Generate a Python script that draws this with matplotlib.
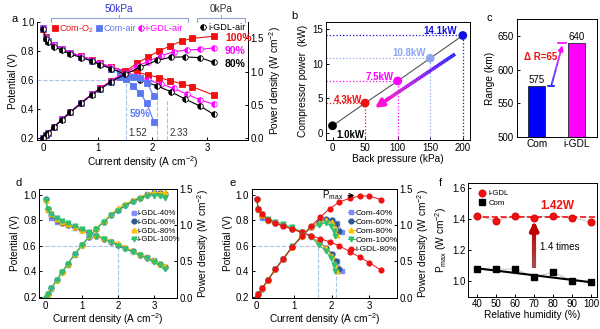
import numpy as np
import matplotlib
matplotlib.use('Agg')
import matplotlib.pyplot as plt
from matplotlib.collections import LineCollection
from matplotlib.colors import to_rgb
from matplotlib.transforms import blended_transform_factory

plt.rcParams['font.family'] = ['Liberation Sans', 'DejaVu Sans']
plt.rcParams['mathtext.fontset'] = 'custom'
plt.rcParams['mathtext.rm'] = 'Liberation Sans'
plt.rcParams['mathtext.it'] = 'Liberation Sans:italic'
plt.rcParams['font.size'] = 7
plt.rcParams['xtick.labelsize'] = 7
plt.rcParams['ytick.labelsize'] = 7
plt.rcParams['axes.linewidth'] = 0.7
plt.rcParams['xtick.direction'] = 'in'
plt.rcParams['ytick.direction'] = 'in'
plt.rcParams['xtick.major.size'] = 2.5
plt.rcParams['ytick.major.size'] = 2.5
plt.rcParams['xtick.major.width'] = 0.7
plt.rcParams['ytick.major.width'] = 0.7
plt.rcParams['xtick.major.pad'] = 2
plt.rcParams['ytick.major.pad'] = 2

# ---------------- data ----------------
# panel a : polarisation (V) and power (W cm-2) vs current (A cm-2)
a_i_o2 = [0, 0.05, 0.1, 0.2, 0.35, 0.5, 0.7, 0.9, 1.05, 1.25, 1.5, 1.72, 1.92, 2.13, 2.33, 2.54, 2.73, 3.12]
a_v_o2 = [0.955, 0.895, 0.87, 0.845, 0.815, 0.79, 0.765, 0.74, 0.715, 0.69, 0.665, 0.655, 0.635, 0.618, 0.595, 0.575, 0.555, 0.497]
a_p_o2 = [0, 0.045, 0.087, 0.169, 0.285, 0.395, 0.536, 0.666, 0.751, 0.863, 0.998, 1.127, 1.219, 1.316, 1.386, 1.461, 1.5, 1.53]

a_i_air = [0, 0.05, 0.1, 0.2, 0.35, 0.5, 0.7, 0.9, 1.05, 1.25, 1.4, 1.52, 1.65, 1.78, 1.9, 2.03]
a_v_air = [0.96, 0.89, 0.87, 0.845, 0.815, 0.79, 0.76, 0.735, 0.71, 0.68, 0.655, 0.605, 0.56, 0.51, 0.44, 0.31]
a_p_air = [0, 0.045, 0.087, 0.169, 0.285, 0.395, 0.532, 0.662, 0.746, 0.85, 0.917, 0.92, 0.924, 0.908, 0.836, 0.63]

a_i_gdl = [0, 0.05, 0.1, 0.2, 0.35, 0.5, 0.7, 0.9, 1.05, 1.25, 1.5, 1.72, 1.92, 2.15, 2.39, 2.63, 2.88, 3.12]
a_v_gdl = [0.96, 0.89, 0.865, 0.84, 0.815, 0.79, 0.765, 0.74, 0.715, 0.69, 0.655, 0.63, 0.6, 0.575, 0.543, 0.504, 0.463, 0.435]
a_p_gdl = [0, 0.045, 0.087, 0.168, 0.285, 0.395, 0.536, 0.666, 0.751, 0.863, 0.983, 1.084, 1.152, 1.236, 1.298, 1.326, 1.333, 1.357]

a_i_gdl0 = [0, 0.05, 0.1, 0.2, 0.35, 0.5, 0.7, 0.9, 1.05, 1.25, 1.5, 1.78, 2.09, 2.34, 2.6, 2.88, 3.12]
a_v_gdl0 = [0.955, 0.885, 0.86, 0.83, 0.805, 0.78, 0.755, 0.73, 0.705, 0.68, 0.64, 0.6, 0.56, 0.52, 0.47, 0.42, 0.365]
a_p_gdl0 = [0, 0.044, 0.086, 0.166, 0.282, 0.39, 0.529, 0.657, 0.74, 0.85, 0.96, 1.068, 1.17, 1.217, 1.222, 1.21, 1.139]

# panel b : compressor power vs back pressure
b_pressure = [0, 50, 100, 150, 200]
b_power = [1.0, 4.3, 7.5, 10.8, 14.1]
b_labels = ['1.0kW', '4.3kW', '7.5kW', '10.8kW', '14.1kW']

# panel c : driving range
c_names = ['Com', 'i-GDL']
c_range = [575, 640]

# panel d : i-GDL at different RH
d_i = [0, 0.05, 0.15, 0.3, 0.45, 0.6, 0.8, 1.0, 1.2, 1.4, 1.6, 1.8, 2.0, 2.2, 2.4, 2.6, 2.8, 3.0, 3.15, 3.3]
d_v40 = [0.96, 0.88, 0.82, 0.79, 0.775, 0.76, 0.74, 0.72, 0.70, 0.68, 0.655, 0.63, 0.605, 0.58, 0.555, 0.53, 0.51, 0.485, 0.46, 0.435]
d_p40 = [0, 0.044, 0.123, 0.237, 0.349, 0.456, 0.592, 0.72, 0.84, 0.952, 1.048, 1.134, 1.21, 1.276, 1.332, 1.378, 1.428, 1.455, 1.449, 1.436]
d_v60 = [0.965, 0.89, 0.84, 0.80, 0.78, 0.765, 0.745, 0.72, 0.70, 0.68, 0.655, 0.63, 0.605, 0.58, 0.555, 0.53, 0.505, 0.48, 0.46, 0.435]
d_p60 = [0, 0.045, 0.126, 0.24, 0.351, 0.459, 0.596, 0.72, 0.84, 0.952, 1.048, 1.134, 1.21, 1.276, 1.332, 1.378, 1.414, 1.44, 1.449, 1.436]
d_v80 = [0.96, 0.885, 0.845, 0.81, 0.79, 0.77, 0.75, 0.725, 0.705, 0.685, 0.66, 0.64, 0.62, 0.59, 0.56, 0.535, 0.51, 0.485, 0.46, 0.44]
d_p80 = [0, 0.044, 0.127, 0.243, 0.356, 0.462, 0.6, 0.725, 0.846, 0.959, 1.056, 1.152, 1.24, 1.298, 1.344, 1.391, 1.428, 1.455, 1.449, 1.452]
d_v100 = [0.955, 0.885, 0.85, 0.815, 0.795, 0.775, 0.755, 0.73, 0.705, 0.68, 0.655, 0.63, 0.60, 0.575, 0.55, 0.525, 0.5, 0.47, 0.445, 0.415]
d_p100 = [0, 0.044, 0.128, 0.245, 0.358, 0.465, 0.604, 0.73, 0.846, 0.952, 1.048, 1.134, 1.2, 1.265, 1.32, 1.365, 1.4, 1.41, 1.402, 1.37]

# panel e : Com at different RH vs i-GDL-80%
e_i40 = [0, 0.05, 0.15, 0.3, 0.5, 0.7, 0.95, 1.2, 1.45, 1.65, 1.85, 2.0, 2.15, 2.28]
e_v40 = [0.97, 0.88, 0.82, 0.795, 0.775, 0.755, 0.73, 0.705, 0.67, 0.625, 0.58, 0.535, 0.48, 0.40]
e_p40 = [0, 0.044, 0.123, 0.239, 0.388, 0.529, 0.694, 0.846, 0.972, 1.031, 1.073, 1.07, 1.032, 0.912]
e_i60 = [0, 0.05, 0.15, 0.3, 0.5, 0.7, 0.95, 1.2, 1.45, 1.65, 1.85, 2.0, 2.12, 2.2]
e_v60 = [0.97, 0.885, 0.835, 0.80, 0.78, 0.76, 0.735, 0.705, 0.675, 0.63, 0.585, 0.535, 0.48, 0.42]
e_p60 = [0, 0.044, 0.125, 0.24, 0.39, 0.532, 0.698, 0.846, 0.979, 1.04, 1.082, 1.07, 1.018, 0.924]
e_i80 = [0, 0.05, 0.15, 0.3, 0.5, 0.7, 0.95, 1.2, 1.45, 1.65, 1.85, 2.0, 2.08, 2.15]
e_v80 = [0.965, 0.89, 0.84, 0.805, 0.785, 0.765, 0.74, 0.71, 0.675, 0.625, 0.58, 0.52, 0.46, 0.40]
e_p80 = [0, 0.045, 0.126, 0.242, 0.393, 0.536, 0.703, 0.852, 0.979, 1.031, 1.073, 1.04, 0.957, 0.86]
e_i100 = [0, 0.05, 0.15, 0.3, 0.5, 0.7, 0.95, 1.2, 1.45, 1.65, 1.85, 1.97, 2.05, 2.1]
e_v100 = [0.96, 0.885, 0.845, 0.81, 0.79, 0.77, 0.745, 0.71, 0.67, 0.605, 0.56, 0.5, 0.45, 0.405]
e_p100 = [0, 0.044, 0.127, 0.243, 0.395, 0.539, 0.708, 0.852, 0.972, 0.998, 1.036, 0.985, 0.923, 0.851]
e_ig = [0, 0.05, 0.15, 0.3, 0.5, 0.7, 0.95, 1.2, 1.45, 1.7, 1.95, 2.2, 2.5, 2.75, 3.0, 3.3]
e_vg = [0.965, 0.89, 0.845, 0.805, 0.775, 0.755, 0.73, 0.705, 0.68, 0.655, 0.63, 0.6, 0.55, 0.51, 0.468, 0.41]
e_pg = [0, 0.045, 0.127, 0.242, 0.388, 0.529, 0.694, 0.846, 0.986, 1.114, 1.229, 1.32, 1.375, 1.403, 1.404, 1.353]

# panel f : Pmax vs relative humidity
f_rh = [40, 50, 60, 70, 80, 90, 100]
f_igdl = [1.42, 1.39, 1.42, 1.41, 1.42, 1.41, 1.38]
f_com = [1.075, 1.075, 1.075, 1.025, 1.055, 1.0, 0.99]
f_com_fit = [1.08, 0.99]
f_igdl_mean = 1.415

RED = '#f01010'
BLUE = '#5a78f0'
MAG = '#ff00ff'
DASH = '#a9c2e6'
C40, C60, C80, C100 = '#7d8ef5', '#2e5a96', '#ffc000', '#2fc070'
LFS = 7.3   # axis label size

fig = plt.figure(figsize=(6, 3.29), dpi=100)
W, H = 600, 329


def box(l, t, r, b):
    return [l / W, 1 - b / H, (r - l) / W, (b - t) / H]


def grad_arrow(ax, p0, p1, c0, c1, lw, head):
    t = np.linspace(0, 0.86, 40)
    xs = p0[0] + (p1[0] - p0[0]) * t
    ys = p0[1] + (p1[1] - p0[1]) * t
    pts = np.column_stack([xs, ys]).reshape(-1, 1, 2)
    segs = np.concatenate([pts[:-1], pts[1:]], axis=1)
    a0, a1 = np.array(to_rgb(c0)), np.array(to_rgb(c1))
    cols = [(1 - s / 0.86) * a0 + (s / 0.86) * a1 for s in t[:-1]]
    ax.add_collection(LineCollection(segs, colors=cols, linewidths=lw, capstyle='butt', zorder=5))
    ax.annotate('', xy=p1, xytext=(xs[-3], ys[-3]),
                arrowprops=dict(arrowstyle='-|>', color=c1, lw=lw, mutation_scale=head,
                                shrinkA=0, shrinkB=0), zorder=6)


cur_label = 'Current density (A cm$^{-2}$)'
pow_label = 'Power density (W cm$^{-2}$)'

# ---------------- a ----------------
ax = fig.add_axes(box(37, 22, 248, 140))
ax2 = ax.twinx()
ax.spines['top'].set_visible(False)
ax2.spines['top'].set_visible(False)
ax.set_xlim(-0.11, 3.75)
ax.set_ylim(0.188, 1.0)
ax2.set_ylim(-0.025, 1.745)
ax.plot([-0.11, 2.08], [0.6, 0.6], ls='--', color=DASH, lw=0.8)
for xv, top in [(1.52, 0.6), (2.08, 0.6), (2.27, 0.46)]:
    ax.plot([xv, xv], [0.188, top], ls='--', color=DASH, lw=0.8)
series_a = [
    (a_i_o2, a_v_o2, a_p_o2, RED, 's', 'full', 'Com-O$_2$'),
    (a_i_air, a_v_air, a_p_air, BLUE, 's', 'full', 'Com-air'),
    (a_i_gdl, a_v_gdl, a_p_gdl, MAG, 'o', 'left', 'i-GDL-air'),
    (a_i_gdl0, a_v_gdl0, a_p_gdl0, 'black', 'o', 'left', 'i-GDL-air'),
]
hs = []
for i, v, p, c, m, fs, lab in series_a:
    h, = ax.plot(i, v, color=c, marker=m, ms=4.0, lw=0.8, fillstyle=fs,
                 markerfacecoloralt='white', mec=c, mew=0.6, label=lab)
    ax2.plot(i, p, color=c, marker=m, ms=4.0, lw=0.8, fillstyle=fs,
             markerfacecoloralt='white', mec=c, mew=0.6)
    hs.append(h)
leg = ax.legend(hs[:3], [s[6] for s in series_a[:3]], loc='upper left', bbox_to_anchor=(0.04, 1.045),
                ncol=3, frameon=False, fontsize=6.6, handlelength=0.6, handletextpad=0.15,
                columnspacing=0.3, borderpad=0.2)
for txt, c in zip(leg.get_texts(), [RED, BLUE, MAG]):
    txt.set_color(c)
ax2.legend(hs[3:], ['i-GDL-air'], loc='upper left', bbox_to_anchor=(0.745, 1.045),
           frameon=False, fontsize=6.6, handlelength=0.6, handletextpad=0.3, borderpad=0.2)
ax2.text(3.33, 1.5, '100%', color=RED, fontsize=7.5, fontweight='bold', va='center')
ax2.text(3.33, 1.31, '90%', color=MAG, fontsize=7.5, fontweight='bold', va='center')
ax2.text(3.33, 1.11, '80%', color='black', fontsize=7.5, fontweight='bold', va='center')
ax.text(1.78, 0.37, '59%', color=BLUE, fontsize=7.5, fontweight='bold', ha='center', va='center')
ax.text(1.56, 0.2, '1.52', fontsize=7, color='#333333', va='bottom')
ax.text(2.31, 0.2, '2.33', fontsize=7, color='#333333', va='bottom')
tr = blended_transform_factory(ax.transData, ax.transAxes)
BR = '#8ea6d4'
for x0, x1, txt, tc in [(0.14, 2.65, '50kPa', '#3030d0'), (2.82, 3.69, '0kPa', '#333333')]:
    xm = (x0 + x1) / 2
    ax.plot([x0, x0, x1, x1], [1.0, 1.034, 1.034, 1.0], color=BR, lw=0.8, transform=tr, clip_on=False)
    ax.plot([xm, xm], [1.034, 1.06], color=BR, lw=0.8, transform=tr, clip_on=False)
    ax.text(xm, 1.07, txt, color=tc, fontsize=7.3, ha='center', va='bottom', transform=tr)
ax.set_xticks([0, 1, 2, 3])
ax.set_yticks([0.2, 0.4, 0.6, 0.8, 1.0])
ax2.set_yticks([0, 0.5, 1.0, 1.5])
ax.set_xlabel(cur_label, fontsize=LFS, labelpad=1)
ax.set_ylabel('Potential (V)', fontsize=LFS, labelpad=2)
ax2.set_ylabel(pow_label, fontsize=LFS, labelpad=2)
fig.text(11 / W, 1 - 19 / H, 'a', fontsize=8, va='center')

# ---------------- b ----------------
bx = fig.add_axes(box(326, 21.7, 470, 140))
bx.set_xlim(-10, 211)
bx.set_ylim(-1.06, 16.1)
b_cols = ['black', RED, MAG, '#8fa6f2', '#1010e0']
bx.plot(b_pressure, b_power, color='#555555', lw=0.8, zorder=2)
for x, y, c in zip(b_pressure[1:], b_power[1:], b_cols[1:]):
    bx.plot([-10, x], [y, y], ls=':', color=c, lw=0.9)
    bx.plot([x, x], [-1.06, y], ls=':', color=c, lw=0.9)
bx.scatter(b_pressure, b_power, c=b_cols, s=28, zorder=4)
bx.text(6, -0.3, b_labels[0], color='black', fontsize=7, fontweight='bold', va='center')
bx.text(45, 4.75, b_labels[1], color=RED, fontsize=7, fontweight='bold', ha='right', va='center')
bx.text(94, 8.1, b_labels[2], color=MAG, fontsize=7, fontweight='bold', ha='right', va='center')
bx.text(144, 11.5, b_labels[3], color='#8fa6f2', fontsize=7, fontweight='bold', ha='right', va='center')
bx.text(191, 14.75, b_labels[4], color='#1010e0', fontsize=7, fontweight='bold', ha='right', va='center')
grad_arrow(bx, (188, 11.4), (65, 3.6), '#2020ff', '#ff10d0', 2.6, 12)
bx.set_xticks([0, 50, 100, 150, 200])
bx.set_yticks([0, 5, 10, 15])
bx.set_xlabel('Back pressure (kPa)', fontsize=LFS, labelpad=1)
bx.set_ylabel('Compressor power  (kW)', fontsize=LFS, labelpad=3)
fig.text(291 / W, 1 - 16 / H, 'b', fontsize=8, va='center')

# ---------------- c ----------------
cx = fig.add_axes(box(516.7, 19.3, 596.7, 136.7))
cx.set_xlim(-0.5, 1.5)
cx.set_ylim(500, 675)
cx.bar([0, 1], c_range, width=0.42, color=['#0000ff', MAG], edgecolor='#222222', lw=0.6)
for x, r in zip([0, 1], c_range):
    cx.text(x, r + 1.5, str(r), ha='center', va='bottom', fontsize=7)
cx.plot([0.27, 0.43], [575, 575], color='#1010e0', lw=1.2)
cx.plot([0.52, 0.73], [639, 639], color=MAG, lw=1.2)
grad_arrow(cx, (0.37, 577), (0.64, 636), '#1010ff', '#ff00ff', 1.3, 7)
cx.text(0.1, 619, 'Δ R=65', color='#f01010', fontsize=7, fontweight='bold', ha='center', va='center')
cx.set_xticks([0, 1])
cx.tick_params(axis='x', length=0)
cx.set_xticklabels(c_names, fontsize=LFS)
cx.set_yticks([500, 550, 600, 650])
cx.set_ylabel('Range (km)', fontsize=LFS, labelpad=2)
fig.text(486 / W, 1 - 18 / H, 'c', fontsize=8, va='center')


def pol_panel(box_px, series, letter, lpos, lfs):
    ax = fig.add_axes(box(*box_px))
    ax2 = ax.twinx()
    ax.set_ylim(0.19, 1.045)
    ax2.set_ylim(-0.006, 1.5)
    hs = []
    for i, v, p, c, m, lab in series:
        h, = ax.plot(i, v, color=c, marker=m, ms=3.4, lw=0.7, mec=c, label=lab)
        ax2.plot(i, p, color=c, marker=m, ms=3.4, lw=0.7, mec=c)
        hs.append(h)
    ax.set_xticks([0, 1, 2, 3])
    ax.set_yticks([0.2, 0.4, 0.6, 0.8, 1.0])
    ax2.set_yticks([0, 0.5, 1.0, 1.5])
    ax.set_xlabel(cur_label, fontsize=LFS, labelpad=0.5)
    ax.set_ylabel('Potential (V)', fontsize=LFS, labelpad=2)
    ax2.set_ylabel(pow_label, fontsize=LFS, labelpad=1.5)
    ax2.legend(hs, [s[5] for s in series], loc='upper left', bbox_to_anchor=lpos, frameon=False,
               fontsize=lfs, handlelength=0.8, handletextpad=0.15, labelspacing=0.15, borderpad=0.1)
    fig.text(letter[1] / W, 1 - letter[2] / H, letter[0], fontsize=8, va='center')
    return ax, ax2


# ---------------- d ----------------
dser = [
    (d_i, d_v40, d_p40, C40, 's', 'i-GDL-40%'),
    (d_i, d_v60, d_p60, C60, 'o', 'i-GDL-60%'),
    (d_i, d_v80, d_p80, C80, '^', 'i-GDL-80%'),
    (d_i, d_v100, d_p100, C100, 'v', 'i-GDL-100%'),
]
dx, dx2 = pol_panel((39.3, 189, 176.7, 298), dser, ('d', 15, 183), (0.63, 0.85), 5.6)
dx.set_xlim(-0.18, 3.62)
dx.plot([-0.18, 2.0], [0.6, 0.6], ls='--', color=DASH, lw=0.8, zorder=0)
dx.plot([2.0, 2.0], [0.19, 0.6], ls='--', color=DASH, lw=0.8, zorder=0)

# ---------------- e ----------------
eser = [
    (e_i40, e_v40, e_p40, C40, 's', 'Com-40%'),
    (e_i60, e_v60, e_p60, C60, 'o', 'Com-60%'),
    (e_i80, e_v80, e_p80, C80, '^', 'Com-80%'),
    (e_i100, e_v100, e_p100, C100, 'v', 'Com-100%'),
    (e_ig, e_vg, e_pg, RED, 'o', 'i-GDL-80%'),
]
ex, ex2 = pol_panel((251.7, 189, 396.7, 298), eser, ('e', 229, 183), (0.63, 0.86), 6.0)
ex.set_xlim(-0.13, 3.73)
ex.plot([-0.13, 1.64], [0.6, 0.6], ls='--', color=DASH, lw=0.8, zorder=0)
ex.plot([1.64, 1.64], [0.19, 0.6], ls='--', color=DASH, lw=0.8, zorder=0)
ex.plot([2.11, 2.11], [0.19, 0.4], ls='--', color=DASH, lw=0.8, zorder=0)
ex2.annotate('', xy=(2.68, 1.41), xytext=(2.36, 1.41),
             arrowprops=dict(arrowstyle='->', color='black', lw=0.9))
ex2.text(2.32, 1.42, r'P$_{\mathrm{max}}$', fontsize=7, ha='right', va='center')

# ---------------- f ----------------
fx = fig.add_axes(box(468.3, 183.3, 596.7, 296.7))
fx.set_xlim(35.2, 103)
fx.set_ylim(0.896, 1.632)
fx.plot([38, 102], [f_igdl_mean, f_igdl_mean], ls='--', color=RED, lw=1.2, zorder=2)
fx.plot(f_rh, f_igdl, color='#bbbbbb', lw=0.6, zorder=1)
fx.plot(f_rh, f_com, color='#bbbbbb', lw=0.6, zorder=1)
fx.plot([f_rh[0], f_rh[-1]], f_com_fit, color='black', lw=1.5, zorder=2)
hf1, = fx.plot(f_rh, f_igdl, ls='none', marker='o', ms=5.2, color=RED, mec='#c00000', mew=0.5, zorder=3)
hf2, = fx.plot(f_rh, f_com, ls='none', marker='s', ms=4.8, color='black', zorder=3)
fx.legend([hf1, hf2], ['i-GDL', 'Com'], loc='upper left', bbox_to_anchor=(0.04, 0.99), frameon=False,
          fontsize=5.6, handlelength=0.9, handletextpad=0.3, labelspacing=0.25, borderpad=0.2)
grad_arrow(fx, (70, 1.08), (70, 1.385), '#a05050', '#c00000', 3.0, 12)
fx.text(82, 1.485, '1.42W', color=RED, fontsize=8.5, fontweight='bold', ha='center', va='center')
fx.text(83.5, 1.217, '1.4 times', fontsize=7, ha='center', va='center')
fx.set_xticks([40, 50, 60, 70, 80, 90, 100])
fx.set_yticks([1.0, 1.2, 1.4, 1.6])
fx.set_xlabel('Relative humidity (%)', fontsize=LFS, labelpad=0.5)
fx.set_ylabel(r'P$_{\mathrm{max}}$ (W cm$^{-2}$)', fontsize=LFS, labelpad=2)
fig.text(439 / W, 1 - 183 / H, 'f', fontsize=8, va='center')

fig.savefig('out.png', dpi=100)
